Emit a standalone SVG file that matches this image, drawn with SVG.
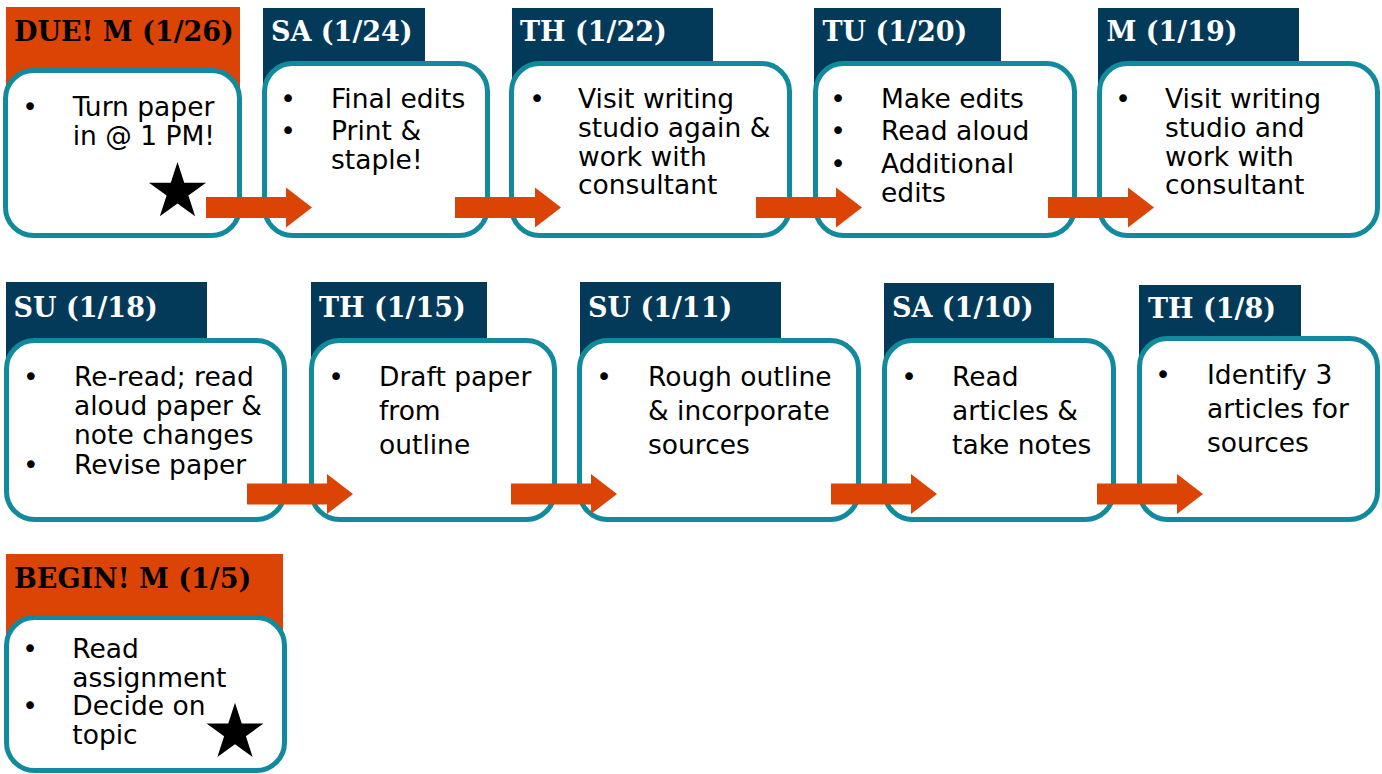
<svg xmlns="http://www.w3.org/2000/svg" xmlns:xlink="http://www.w3.org/1999/xlink" width="1382" height="774" viewBox="0 0 1382 774">
<style>
.hn{fill:#033A5A}
.ho{fill:#DC4405}
.box{fill:#FFFFFF;stroke:#108A9C;stroke-width:5}
.ht{font-family:"DejaVu Serif","Liberation Serif",serif;font-weight:bold;font-size:27px}
.hw{fill:#FFFFFF}
.hb{fill:#000000}
.t{font-family:"DejaVu Sans","Liberation Sans",sans-serif;font-size:26.5px;fill:#000000}
.b{text-anchor:middle}
.arr{fill:#DC4405}
.star{fill:#000000}
</style>
<defs>
<polygon id="arrow" points="0,-10.5 80,-10.5 80,-20 106,0 80,20 80,10.5 0,10.5"/>
<polygon id="star" points="0,-30 6.74,-9.27 28.53,-9.27 10.9,3.54 17.63,24.27 0,11.46 -17.63,24.27 -10.9,3.54 -28.53,-9.27 -6.74,-9.27"/>
</defs>
<rect width="1382" height="774" fill="#FFFFFF"/>

<g id="node-due">
<rect class="ho" x="6" y="7" width="234" height="103"/>
<rect class="box" x="5.5" y="70.5" width="234" height="165" rx="28"/>
<text class="ht hb" x="14" y="41">DUE! M (1/26)</text>
<text class="t b" x="30" y="116">•</text>
<text class="t" x="72.7" y="116">Turn paper</text>
<text class="t" x="72.7" y="144.5">in @ 1 PM!</text>
<use xlink:href="#star" class="star" x="177.5" y="192"/>
</g>

<g id="node-sa24">
<rect class="hn" x="263" y="8" width="162" height="95"/>
<rect class="box" x="264.5" y="63.5" width="223" height="172" rx="28"/>
<text class="ht hw" x="271" y="41">SA (1/24)</text>
<text class="t b" x="288" y="107.5">•</text>
<text class="t" x="331" y="107.5">Final edits</text>
<text class="t b" x="288" y="140">•</text>
<text class="t" x="331" y="140">Print &amp;</text>
<text class="t" x="331" y="168.5">staple!</text>
</g>

<g id="node-th22">
<rect class="hn" x="512" y="8" width="201" height="95"/>
<rect class="box" x="511.5" y="63.5" width="278" height="172" rx="28"/>
<text class="ht hw" x="520" y="41">TH (1/22)</text>
<text class="t b" x="537" y="108">•</text>
<text class="t" x="578" y="108">Visit writing</text>
<text class="t" x="578" y="136.7">studio again &amp;</text>
<text class="t" x="578" y="165.5">work with</text>
<text class="t" x="578" y="193.5">consultant</text>
</g>

<g id="node-tu20">
<rect class="hn" x="814" y="8" width="187" height="95"/>
<rect class="box" x="815.5" y="63.5" width="259" height="172" rx="28"/>
<text class="ht hw" x="822.5" y="41">TU (1/20)</text>
<text class="t b" x="838" y="107.5">•</text>
<text class="t" x="881" y="107.5">Make edits</text>
<text class="t b" x="838" y="140">•</text>
<text class="t" x="881" y="140">Read aloud</text>
<text class="t b" x="838" y="173">•</text>
<text class="t" x="881" y="173">Additional</text>
<text class="t" x="881" y="201.5">edits</text>
</g>

<g id="node-m19">
<rect class="hn" x="1098" y="8" width="201" height="95"/>
<rect class="box" x="1099.5" y="63.5" width="278" height="172" rx="28"/>
<text class="ht hw" x="1106.5" y="41">M (1/19)</text>
<text class="t b" x="1123" y="108">•</text>
<text class="t" x="1165" y="108">Visit writing</text>
<text class="t" x="1165" y="136.7">studio and</text>
<text class="t" x="1165" y="165.5">work with</text>
<text class="t" x="1165" y="193.5">consultant</text>
</g>

<g id="node-su18">
<rect class="hn" x="6" y="282" width="201" height="98"/>
<rect class="box" x="6.5" y="340.5" width="278" height="179" rx="28"/>
<text class="ht hw" x="13.5" y="317">SU (1/18)</text>
<text class="t b" x="30.7" y="386">•</text>
<text class="t" x="74" y="386">Re-read; read</text>
<text class="t" x="74" y="415">aloud paper &amp;</text>
<text class="t" x="74" y="444">note changes</text>
<text class="t b" x="30.7" y="474">•</text>
<text class="t" x="74" y="474">Revise paper</text>
</g>

<g id="node-th15">
<rect class="hn" x="311" y="282" width="176" height="98"/>
<rect class="box" x="311.5" y="340.5" width="243" height="179" rx="28"/>
<text class="ht hw" x="319" y="317">TH (1/15)</text>
<text class="t b" x="336" y="386">•</text>
<text class="t" x="379" y="386">Draft paper</text>
<text class="t" x="379" y="420">from</text>
<text class="t" x="379" y="454">outline</text>
</g>

<g id="node-su11">
<rect class="hn" x="580" y="282" width="201" height="98"/>
<rect class="box" x="579.5" y="340.5" width="279" height="179" rx="28"/>
<text class="ht hw" x="588" y="317">SU (1/11)</text>
<text class="t b" x="604" y="386">•</text>
<text class="t" x="648" y="386">Rough outline</text>
<text class="t" x="648" y="420">&amp; incorporate</text>
<text class="t" x="648" y="454">sources</text>
</g>

<g id="node-sa10">
<rect class="hn" x="884" y="283" width="170" height="97"/>
<rect class="box" x="884.5" y="340.5" width="229" height="179" rx="28"/>
<text class="ht hw" x="892" y="317">SA (1/10)</text>
<text class="t b" x="909" y="386">•</text>
<text class="t" x="952" y="386">Read</text>
<text class="t" x="952" y="420">articles &amp;</text>
<text class="t" x="952" y="454">take notes</text>
</g>

<g id="node-th8">
<rect class="hn" x="1139" y="285" width="162" height="95"/>
<rect class="box" x="1139.5" y="338.5" width="238" height="181" rx="28"/>
<text class="ht hw" x="1148" y="318">TH (1/8)</text>
<text class="t b" x="1163" y="384">•</text>
<text class="t" x="1207" y="384">Identify 3</text>
<text class="t" x="1207" y="417.5">articles for</text>
<text class="t" x="1207" y="451.5">sources</text>
</g>

<g id="node-begin">
<rect class="ho" x="6" y="554" width="277" height="100"/>
<rect class="box" x="6.5" y="617.5" width="278" height="153" rx="28"/>
<text class="ht hb" x="14" y="587.5">BEGIN! M (1/5)</text>
<text class="t b" x="30" y="658.3">•</text>
<text class="t" x="72.3" y="658.3">Read</text>
<text class="t" x="72.3" y="686.7">assignment</text>
<text class="t b" x="30" y="715.2">•</text>
<text class="t" x="72.3" y="715.2">Decide on</text>
<text class="t" x="72.3" y="743.6">topic</text>
<use xlink:href="#star" class="star" x="235" y="732.7"/>
</g>

<g id="connectors" class="arr">
<use xlink:href="#arrow" x="206" y="207.5"/>
<use xlink:href="#arrow" x="455" y="207.5"/>
<use xlink:href="#arrow" x="756" y="207.5"/>
<use xlink:href="#arrow" x="1048" y="207.5"/>
<use xlink:href="#arrow" x="247" y="494"/>
<use xlink:href="#arrow" x="511" y="494"/>
<use xlink:href="#arrow" x="831" y="494"/>
<use xlink:href="#arrow" x="1097" y="494"/>
</g>
</svg>
